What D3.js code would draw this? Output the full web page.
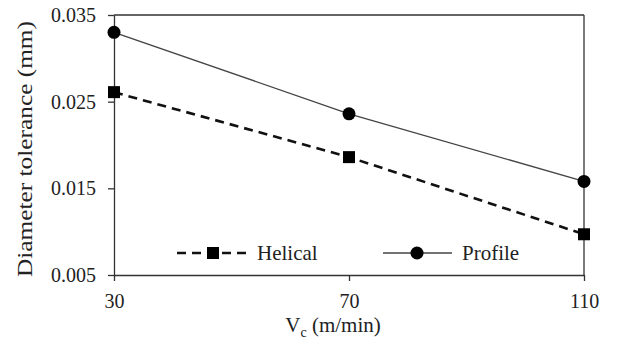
<!DOCTYPE html>
<html>
<head>
<meta charset="utf-8">
<script src="https://cdn.jsdelivr.net/npm/d3@7"></script>
<style>
  body { margin: 0; background: #fff; }
  svg { display: block; }
</style>
</head>
<body>
<div id="chart"></div>
<script>
// data
const speeds = [30, 70, 110];
const helical = [0.0261, 0.0186, 0.0097];
const profile = [0.0330, 0.0236, 0.0158];
const yTicks = [0.005, 0.015, 0.025, 0.035];

const serif = '"Liberation Serif", "Times New Roman", serif';

const W = 618, H = 339;
const margin = { top: 15, right: 34, bottom: 64, left: 114 };
const width = W - margin.left - margin.right;
const height = H - margin.top - margin.bottom;

const svg = d3.select("#chart").append("svg")
  .attr("width", W)
  .attr("height", H)
  .attr("font-family", serif);

const g = svg.append("g")
  .attr("transform", `translate(${margin.left},${margin.top})`);

const x = d3.scaleLinear().domain([30, 110]).range([0, width]);
const y = d3.scaleLinear().domain([0.005, 0.035]).range([height, 0]);

const axisColor = "#333";
const textColor = "#222";

// frame: top and right
g.append("line")
  .attr("x1", 0).attr("x2", width).attr("y1", 0).attr("y2", 0)
  .attr("stroke", axisColor).attr("stroke-width", 1.3);
g.append("line")
  .attr("x1", width).attr("x2", width).attr("y1", 0).attr("y2", height)
  .attr("stroke", axisColor).attr("stroke-width", 1.3);

// x axis
const xAxis = g.append("g")
  .attr("transform", `translate(0,${height})`)
  .call(d3.axisBottom(x).tickValues(speeds).tickSize(6).tickSizeOuter(0).tickPadding(13));
xAxis.attr("font-family", serif).attr("font-size", 20);
xAxis.selectAll("path, line").attr("stroke", axisColor).attr("stroke-width", 1.3);
xAxis.selectAll("text").attr("fill", textColor);

// y axis
const yAxis = g.append("g")
  .call(d3.axisLeft(y).tickValues(yTicks).tickFormat(d3.format(".3f")).tickSize(6).tickSizeOuter(0).tickPadding(12));
yAxis.attr("font-family", serif).attr("font-size", 20);
yAxis.selectAll("path, line").attr("stroke", axisColor).attr("stroke-width", 1.3);
yAxis.selectAll("text").attr("fill", textColor);

// axis titles
svg.append("text")
  .attr("transform", `translate(32,149) rotate(-90)`)
  .attr("text-anchor", "middle")
  .attr("fill", textColor)
  .attr("textLength", 256)
  .attr("lengthAdjust", "spacingAndGlyphs")
  .style("font-size", "21px")
  .text("Diameter tolerance (mm)");

const xt = svg.append("text")
  .attr("x", 333)
  .attr("y", 332)
  .attr("text-anchor", "middle")
  .attr("fill", textColor)
  .style("font-size", "21px");
xt.append("tspan").text("V");
xt.append("tspan").attr("dy", 5).style("font-size", "14px").text("c");
xt.append("tspan").attr("dy", -5).text(" (m/min)");

// lines
const line = vals => d3.line()
  .x((d, i) => x(speeds[i]))
  .y(d => y(d))(vals);

g.append("path")
  .attr("d", line(helical))
  .attr("fill", "none")
  .attr("stroke", "#111")
  .attr("stroke-width", 2.6)
  .attr("stroke-dasharray", "9,6");

g.append("path")
  .attr("d", line(profile))
  .attr("fill", "none")
  .attr("stroke", "#444")
  .attr("stroke-width", 1.4);

// markers
const sq = 12;
g.selectAll(".hm").data(helical).enter().append("rect")
  .attr("x", (d, i) => x(speeds[i]) - sq / 2)
  .attr("y", d => y(d) - sq / 2)
  .attr("width", sq).attr("height", sq)
  .attr("fill", "#000");

g.selectAll(".pm").data(profile).enter().append("circle")
  .attr("cx", (d, i) => x(speeds[i]))
  .attr("cy", d => y(d))
  .attr("r", 6.5)
  .attr("fill", "#000");

// legend
const leg = svg.append("g");
const ly = 253;
leg.append("line")
  .attr("x1", 177).attr("x2", 246).attr("y1", ly).attr("y2", ly)
  .attr("stroke", "#111").attr("stroke-width", 2.6).attr("stroke-dasharray", "9,6");
leg.append("rect")
  .attr("x", 213 - sq / 2).attr("y", ly - sq / 2).attr("width", sq).attr("height", sq)
  .attr("fill", "#000");
leg.append("text")
  .attr("x", 257).attr("y", ly + 7)
  .attr("fill", textColor)
  .style("font-size", "21px")
  .text("Helical");

leg.append("line")
  .attr("x1", 383).attr("x2", 452).attr("y1", ly).attr("y2", ly)
  .attr("stroke", "#444").attr("stroke-width", 1.4);
leg.append("circle")
  .attr("cx", 417).attr("cy", ly).attr("r", 6.5)
  .attr("fill", "#000");
leg.append("text")
  .attr("x", 462).attr("y", ly + 7)
  .attr("fill", textColor)
  .style("font-size", "21px")
  .text("Profile");
</script>
</body>
</html>
